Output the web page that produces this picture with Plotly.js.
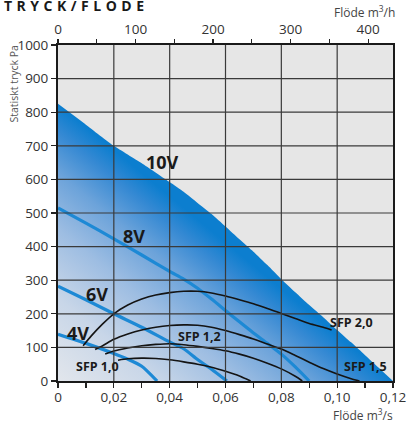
<!DOCTYPE html>
<html>
<head>
<meta charset="utf-8">
<script src="https://cdn.plot.ly/plotly-3.0.1.min.js"></script>
<style>html,body{margin:0;padding:0;background:#fff;}#chart{width:409px;height:423px;}</style>
</head>
<body>
<div id="chart"></div>
<script>
// ---- data ----
const v10X = [0,0.01,0.02,0.03,0.04,0.045,0.05,0.055,0.06,0.065,0.07,0.075,0.08,0.085,0.09,0.095,0.1,0.105,0.11,0.115,0.12];
const v10Y = [825,763,700,648,592,563,530,497,460,422,385,345,303,264,226,190,152,115,77,39,0];
const v8X = [0,0.01,0.02,0.03,0.04,0.045,0.05,0.055,0.06,0.065,0.07,0.075,0.08,0.085,0.09];
const v8Y = [515,470,423,375,326,303,276,244,210,176,143,112,80,42,0];
const v6X = [0,0.01,0.02,0.03,0.04,0.045,0.05,0.055,0.0605];
const v6Y = [282,242,200,160,116,96,64,35,0];
const v4X = [0,0.01,0.02,0.025,0.03,0.0355];
const v4Y = [139,112,82,65,44,0];

const sfp20X = [0.009,0.012,0.016,0.02,0.025,0.03,0.035,0.04,0.045,0.05,0.055,0.06,0.065,0.07,0.075,0.08,0.085,0.09,0.095,0.098];
const sfp20Y = [105,135,170,200,226,244,256,263,267,267,262,253,242,230,216,201,186,171,160,152];
const sfp15X = [0.0133,0.016,0.02,0.025,0.03,0.035,0.04,0.045,0.05,0.055,0.06,0.065,0.07,0.075,0.08,0.085,0.09,0.095,0.1,0.105,0.108];
const sfp15Y = [94,105,124,140,152,160,165,167,166,160,150,138,125,110,95,76,56,37,21,7,0];
const sfp12X = [0.0169,0.02,0.025,0.03,0.035,0.04,0.045,0.05,0.055,0.06,0.065,0.07,0.075,0.08,0.085,0.0875];
const sfp12Y = [80,89,98,105,109,111,108,103,97,90,80,68,53,36,14,0];
const sfp10X = [0.0215,0.025,0.03,0.035,0.04,0.045,0.05,0.055,0.06,0.065,0.069];
const sfp10Y = [62,66,68,67,63,57,50,41,29,15,0];

const xTickVals = [0,0.02,0.04,0.06,0.08,0.10,0.12];
const xTickText = ['0','0,02','0,04','0,06','0,08','0,10','0,12'];
const yTickVals = [0,100,200,300,400,500,600,700,800,900,1000];
const yTickText = ['0','100','200','300','400','500','600','700','800','900','1000'];
const topTickVals = [0,100,200,300,400];
const topTickText = ['0','100','200','300','400'];
const gridX = [0.02,0.04,0.06,0.08,0.10];
const gridY = [100,200,300,400,500,600,700,800,900];

const voltNames = ['10V','8V','6V','4V'];
const sfpNames = ['SFP 2,0','SFP 1,5','SFP 1,2','SFP 1,0'];

// ---- styles ----
const FONT = 'Open Sans, Liberation Sans, sans-serif';
const BLUE = '#1d89d5';
const BLACK = '#141414';

function blueLine(x, y){
  return {x:x, y:y, type:'scatter', mode:'lines', line:{color:BLUE, width:3.2, shape:'spline', smoothing:0.6}, hoverinfo:'skip', showlegend:false};
}
function blackLine(x, y){
  return {x:x, y:y, type:'scatter', mode:'lines', line:{color:BLACK, width:1.6, shape:'spline', smoothing:0.8}, hoverinfo:'skip', showlegend:false};
}

const traces = [
  {x:v10X, y:v10Y, type:'scatter', mode:'lines', fill:'tozeroy',
   line:{width:0, color:'#0c7ecf', shape:'spline', smoothing:0.5},
   fillcolor:'#0c7ecf',
   fillgradient:{type:'horizontal', colorscale:[[0,'#e2e6ec'],[1,'#0c7ecf']]},
   hoverinfo:'skip', showlegend:false},
  blueLine(v8X, v8Y), blueLine(v6X, v6Y), blueLine(v4X, v4Y),
  blackLine(sfp20X, sfp20Y), blackLine(sfp15X, sfp15Y), blackLine(sfp12X, sfp12Y), blackLine(sfp10X, sfp10Y),
  {x:[], y:[], xaxis:'x2', yaxis:'y', type:'scatter', mode:'lines', showlegend:false, hoverinfo:'skip'}
];

const shapes = [];
gridX.forEach(v => shapes.push({type:'line', xref:'x', yref:'paper', x0:v, x1:v, y0:0, y1:1, layer:'above', line:{color:'#3a3a3a', width:1.2}}));
gridY.forEach(v => shapes.push({type:'line', xref:'paper', yref:'y', x0:0, x1:1, y0:v, y1:v, layer:'above', line:{color:'#3a3a3a', width:1.2}}));

const voltPos = [[0.0376,651],[0.0272,431],[0.014,258],[0.0073,144]];
const sfpPos = [[0.1053,173],[0.1102,43],[0.0507,132],[0.0143,42]];
const annotations = [];
voltNames.forEach((t,i) => annotations.push({x:voltPos[i][0], y:voltPos[i][1], xref:'x', yref:'y', text:'<b>'+t+'</b>', showarrow:false, xanchor:'center', yanchor:'middle', font:{family:FONT, size:18, color:'#1a1a1a'}}));
sfpNames.forEach((t,i) => annotations.push({x:sfpPos[i][0], y:sfpPos[i][1], xref:'x', yref:'y', text:'<b>'+t+'</b>', showarrow:false, xanchor:'center', yanchor:'middle', font:{family:FONT, size:12.5, color:'#1a1a1a'}}));
annotations.push({xref:'paper', yref:'paper', x:-0.1672, y:1.118, xanchor:'left', yanchor:'middle', showarrow:false,
  text:'<b><span style="letter-spacing:4.5px">TRYCK/FLÖDE</span></b>', font:{family:FONT, size:14, color:'#1a1a1a'}});
annotations.push({xref:'paper', yref:'paper', x:-0.1313, y:1.003, xanchor:'center', yanchor:'top', textangle:-90, showarrow:false,
  text:'Statiskt tryck Pa', font:{family:FONT, size:10.5, color:'#555'}});
annotations.push({xref:'paper', yref:'paper', x:1.0119, y:1.098, xanchor:'right', yanchor:'middle', showarrow:false,
  text:'Flöde m<sup>3</sup>/h', font:{family:FONT, size:12, color:'#444'}});
annotations.push({xref:'paper', yref:'paper', x:1.006, y:-0.1, xanchor:'right', yanchor:'middle', showarrow:false,
  text:'Flöde m<sup>3</sup>/s', font:{family:FONT, size:12, color:'#444'}});

const tickFont = {family:FONT, size:13.5, color:'#333'};
const layout = {
  width:409, height:423,
  margin:{l:58, r:16, t:45, b:42, pad:0},
  paper_bgcolor:'#ffffff', plot_bgcolor:'#e6e6e6',
  showlegend:false,
  xaxis:{range:[0,0.12], tickmode:'array', tickvals:xTickVals, ticktext:xTickText, ticks:'outside', ticklen:5, tickwidth:1.2, tickcolor:'#222',
    minor:{dtick:0.01, tick0:0, ticks:'outside', ticklen:5, tickwidth:1.2, tickcolor:'#222', showgrid:false},
    ticklabelstandoff:-2,
    showgrid:false, zeroline:false, showline:true, linecolor:'#1a1a1a', linewidth:2, mirror:true, tickfont:tickFont, fixedrange:true},
  xaxis2:{range:[0,432], overlaying:'x', side:'top', anchor:'y', tickmode:'array', tickvals:topTickVals, ticktext:topTickText, ticks:'outside', ticklen:5, tickwidth:1.2, tickcolor:'#222',
    minor:{dtick:50, tick0:0, ticks:'outside', ticklen:5, tickwidth:1.2, tickcolor:'#222', showgrid:false},
    showgrid:false, zeroline:false, showline:false, tickfont:tickFont, fixedrange:true},
  yaxis:{range:[0,1000], tickmode:'array', tickvals:yTickVals, ticktext:yTickText, ticks:'outside', ticklen:5, tickwidth:1.2, tickcolor:'#222',
    showgrid:false, zeroline:false, showline:true, linecolor:'#1a1a1a', linewidth:2, mirror:true, tickfont:tickFont, fixedrange:true},
  shapes:shapes,
  annotations:annotations
};

const gradStops = [[0,'#e2e6ec'],[0.3,'#c8d6e8'],[0.55,'#9dbde2'],[0.75,'#6ca3da'],[0.9,'#3589d3'],[1,'#0c7ecf']];

Plotly.newPlot('chart', traces, layout, {staticPlot:true, displayModeBar:false}).then(gd => {
  const ns = 'http://www.w3.org/2000/svg';
  gd.querySelectorAll('linearGradient').forEach(g => {
    g.setAttribute('gradientUnits','objectBoundingBox');
    g.removeAttribute('gradientTransform');
    g.setAttribute('x1','0'); g.setAttribute('y1','1');
    g.setAttribute('x2','0.5'); g.setAttribute('y2','0.5');
    while(g.firstChild) g.removeChild(g.firstChild);
    gradStops.forEach(s => {
      const st = document.createElementNS(ns,'stop');
      st.setAttribute('offset', s[0]);
      st.setAttribute('stop-color', s[1]);
      g.appendChild(st);
    });
  });
});
</script>
</body>
</html>
